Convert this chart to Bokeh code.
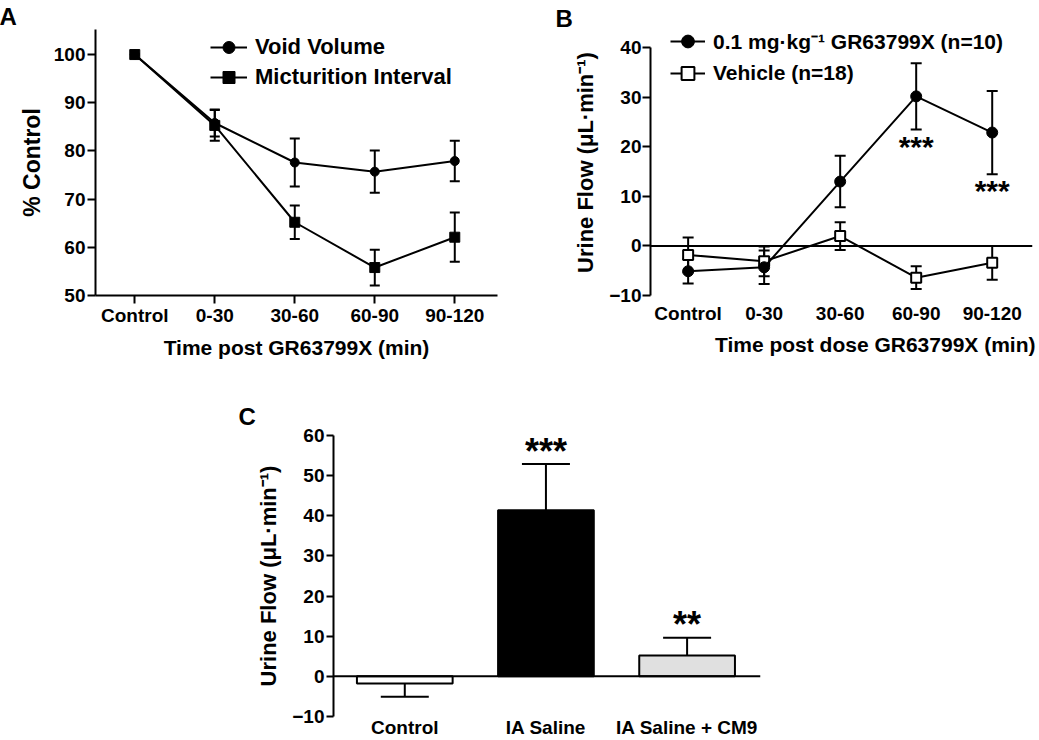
from bokeh.plotting import figure
from bokeh.models import (Range1d, FixedTicker, Whisker, TeeHead, ColumnDataSource,
                          Span, Legend, LegendItem, Spacer, Title)
from bokeh.layouts import row, column
from bokeh.core.properties import value
from bokeh.embed import file_html
from bokeh.resources import INLINE

FONT = "Liberation Sans"

# ---------------- data ----------------
# Panel A
a_periods = ["Control", "0-30", "30-60", "60-90", "90-120"]
a_void_volume = [100, 85.8, 77.6, 75.7, 77.9]
a_void_volume_sem = [0, 2.8, 5.0, 4.4, 4.2]
a_mict_interval = [100, 85.3, 65.2, 55.8, 62.1]
a_mict_interval_sem = [0, 3.2, 3.5, 3.7, 5.1]

# Panel B
b_periods = ["Control", "0-30", "30-60", "60-90", "90-120"]
b_drug = [-5.1, -4.3, 13.0, 30.2, 22.9]
b_drug_sem = [2.5, 3.4, 5.2, 6.7, 8.4]
b_vehicle = [-1.8, -3.1, 2.0, -6.4, -3.4]
b_vehicle_sem = [3.5, 3.0, 2.8, 2.3, 3.4]
b_stars = ["", "", "", "***", "***"]

# Panel C
c_groups = ["Control", "IA Saline", "IA Saline + CM9"]
c_flow = [-1.8, 41.4, 5.2]
c_flow_sem = [3.3, 11.5, 4.4]
c_colors = ["white", "black", "#e0e0e0"]
c_stars = ["", "***", "**"]


def style_axis(ax, tick_out=8, standoff=2, label_size="21px"):
    ax.axis_line_width = 2
    ax.axis_line_color = "black"
    ax.major_tick_line_width = 2
    ax.major_tick_line_color = "black"
    ax.major_tick_out = tick_out
    ax.major_tick_in = 0
    ax.minor_tick_line_color = None
    ax.major_label_standoff = standoff
    ax.major_label_text_font = FONT
    ax.major_label_text_font_style = "bold"
    ax.major_label_text_font_size = "19px"
    ax.major_label_text_color = "black"
    ax.axis_label_text_font = FONT
    ax.axis_label_text_font_style = "bold"
    ax.axis_label_text_font_size = label_size
    ax.axis_label_text_color = "black"


def base_fig(w, h, xr, yr, l, r, t, b):
    p = figure(width=w, height=h, x_range=xr, y_range=yr, output_backend="svg",
               toolbar_location=None, min_border_left=l, min_border_right=r,
               min_border_top=t, min_border_bottom=b)
    p.outline_line_color = None
    p.grid.visible = False
    p.background_fill_color = "white"
    p.border_fill_color = "white"
    return p


def whisker(p, xs, ys, errs, head, up=True, down=True):
    idx = [i for i in range(len(xs)) if errs[i] > 0]
    src = ColumnDataSource(dict(
        x=[xs[i] for i in idx],
        upper=[ys[i] + (errs[i] if up else 0) for i in idx],
        lower=[ys[i] - (errs[i] if down else 0) for i in idx]))
    w = Whisker(source=src, base="x", upper="upper", lower="lower", dimension="height",
                line_width=2, line_color="black",
                upper_head=TeeHead(size=head, line_width=2, line_color="black") if up else None,
                lower_head=TeeHead(size=head, line_width=2, line_color="black") if down else None)
    p.add_layout(w)


def panel_letter(p, txt, offset, standoff):
    p.title.text = txt
    p.title.align = "left"
    p.title.offset = offset
    p.title.standoff = standoff
    p.title.text_font = FONT
    p.title.text_font_style = "bold"
    p.title.text_font_size = "24px"
    p.title.text_color = "black"


# ---------------- Panel A ----------------
ax_pos = list(range(len(a_periods)))
pA = base_fig(515, 370, Range1d(-0.491, 4.534), Range1d(50, 105.2), 95, 18, 28, 75)
style_axis(pA.xaxis[0], tick_out=8, standoff=1)
style_axis(pA.yaxis[0], tick_out=8, standoff=2, label_size="23px")
pA.xaxis.ticker = FixedTicker(ticks=ax_pos)
pA.xaxis.major_label_overrides = {i: s for i, s in enumerate(a_periods)}
pA.yaxis.ticker = FixedTicker(ticks=[50, 60, 70, 80, 90, 100])
pA.xaxis.axis_label = "Time post GR63799X (min)"
pA.xaxis.axis_label_standoff = 7
pA.yaxis.axis_label = "% Control"
pA.yaxis.axis_label_standoff = 6

whisker(pA, ax_pos, a_void_volume, a_void_volume_sem, 10)
whisker(pA, ax_pos, a_mict_interval, a_mict_interval_sem, 10)
l_vv = pA.line(ax_pos, a_void_volume, line_width=2, line_color="black")
s_vv = pA.scatter(ax_pos, a_void_volume, marker="circle", size=9, fill_color="black", line_color="black")
l_mi = pA.line(ax_pos, a_mict_interval, line_width=2, line_color="black")
s_mi = pA.scatter(ax_pos, a_mict_interval, marker="square", size=10, fill_color="black", line_color="black")

legA = Legend(items=[LegendItem(label="Void Volume", renderers=[l_vv, s_vv]),
                     LegendItem(label="Micturition Interval", renderers=[l_mi, s_mi])],
              location=(115, 203), glyph_width=37, glyph_height=30, label_height=30,
              label_standoff=8, spacing=0, padding=0, margin=0, border_line_color=None,
              background_fill_alpha=0, label_text_font=FONT, label_text_font_style="bold",
              label_text_font_size="22px", label_text_color="black")
pA.add_layout(legA)
panel_letter(pA, "A", -96, 0)

# ---------------- Panel B ----------------
bx_pos = list(range(len(b_periods)))
pB = base_fig(524, 370, Range1d(-0.495, 4.53), Range1d(-10, 43.7), 135, 7, 25, 73)
style_axis(pB.xaxis[0], tick_out=0, standoff=7)
style_axis(pB.yaxis[0], tick_out=8, standoff=1, label_size="22px")
pB.xaxis.axis_line_color = None
pB.xaxis.major_tick_line_color = None
pB.xaxis.ticker = FixedTicker(ticks=bx_pos)
pB.xaxis.major_label_overrides = {i: s for i, s in enumerate(b_periods)}
pB.yaxis.ticker = FixedTicker(ticks=[-10, 0, 10, 20, 30, 40])
pB.yaxis.bounds = (-10, 40)
pB.yaxis.axis_label = "Urine Flow (\u03bcL\u00b7min\u207b\u00b9)"
pB.yaxis.axis_label_standoff = 8
pB.add_layout(Title(text="Time post dose GR63799X (min)", align="right", offset=-3, standoff=8,
                    text_font=FONT, text_font_style="bold", text_font_size="21px",
                    text_color="black"), "below")

pB.add_layout(Span(location=0, dimension="width", line_color="black", line_width=2, level="underlay"))
whisker(pB, bx_pos, b_vehicle, b_vehicle_sem, 11)
whisker(pB, bx_pos, b_drug, b_drug_sem, 11)
l_veh = pB.line(bx_pos, b_vehicle, line_width=2, line_color="black")
s_veh = pB.scatter(bx_pos, b_vehicle, marker="square", size=10, fill_color="white", line_color="black", line_width=2)
l_drug = pB.line(bx_pos, b_drug, line_width=2, line_color="black")
s_drug = pB.scatter(bx_pos, b_drug, marker="circle", size=11, fill_color="black", line_color="black")

star_src_b = ColumnDataSource(dict(
    x=bx_pos, y=[m - e for m, e in zip(b_drug, b_drug_sem)], t=b_stars))
pB.text(x="x", y="y", text="t", source=star_src_b, text_font=value(FONT), text_font_style="bold",
        text_font_size="30px", text_align="center", text_baseline="top", y_offset=0, text_color="black")

legB = Legend(items=[LegendItem(label="0.1 mg\u00b7kg\u207b\u00b9 GR63799X (n=10)", renderers=[l_drug, s_drug]),
                     LegendItem(label="Vehicle (n=18)", renderers=[l_veh, s_veh])],
              location=(20, 206), glyph_width=35, glyph_height=32, label_height=32,
              label_standoff=8, spacing=0, padding=0, margin=0, border_line_color=None,
              background_fill_alpha=0, label_text_font=FONT, label_text_font_style="bold",
              label_text_font_size="21px", label_text_color="black")
pB.add_layout(legB)
panel_letter(pB, "B", -95, -5)

# ---------------- Panel C ----------------
cx_pos = list(range(len(c_groups)))
pC = base_fig(560, 370, Range1d(-0.505, 2.52), Range1d(-10, 60), 97, 36, 65, 24)
style_axis(pC.xaxis[0], tick_out=0, standoff=0)
style_axis(pC.yaxis[0], tick_out=7, standoff=2, label_size="22px")
pC.xaxis.axis_line_color = None
pC.xaxis.major_tick_line_color = None
pC.xaxis.ticker = FixedTicker(ticks=cx_pos)
pC.xaxis.major_label_overrides = {i: s for i, s in enumerate(c_groups)}
pC.yaxis.ticker = FixedTicker(ticks=[-10, 0, 10, 20, 30, 40, 50, 60])
pC.yaxis.axis_label = "Urine Flow (\u03bcL\u00b7min\u207b\u00b9)"
pC.yaxis.axis_label_standoff = 8

pos_idx = [i for i in cx_pos if c_flow[i] >= 0]
neg_idx = [i for i in cx_pos if c_flow[i] < 0]
whisker(pC, [cx_pos[i] for i in pos_idx], [c_flow[i] for i in pos_idx],
        [c_flow_sem[i] for i in pos_idx], 48, up=True, down=False)
whisker(pC, [cx_pos[i] for i in neg_idx], [c_flow[i] for i in neg_idx],
        [c_flow_sem[i] for i in neg_idx], 48, up=False, down=True)
pC.vbar(x=cx_pos, top=c_flow, bottom=0, width=0.678, fill_color=c_colors,
        line_color="black", line_width=2)
pC.add_layout(Span(location=0, dimension="width", line_color="black", line_width=2))

star_src_c = ColumnDataSource(dict(
    x=cx_pos, y=[m + e for m, e in zip(c_flow, c_flow_sem)], t=c_stars))
pC.text(x="x", y="y", text="t", source=star_src_c, text_font=value(FONT), text_font_style="bold",
        text_font_size="36px", text_align="center", text_baseline="alphabetic", y_offset=-13,
        text_color="black")
panel_letter(pC, "C", -95, 12)

layout = column(row(pA, pB), row(Spacer(width=236, height=370), pC))

open("out.html", "w").write(file_html(layout, INLINE))
